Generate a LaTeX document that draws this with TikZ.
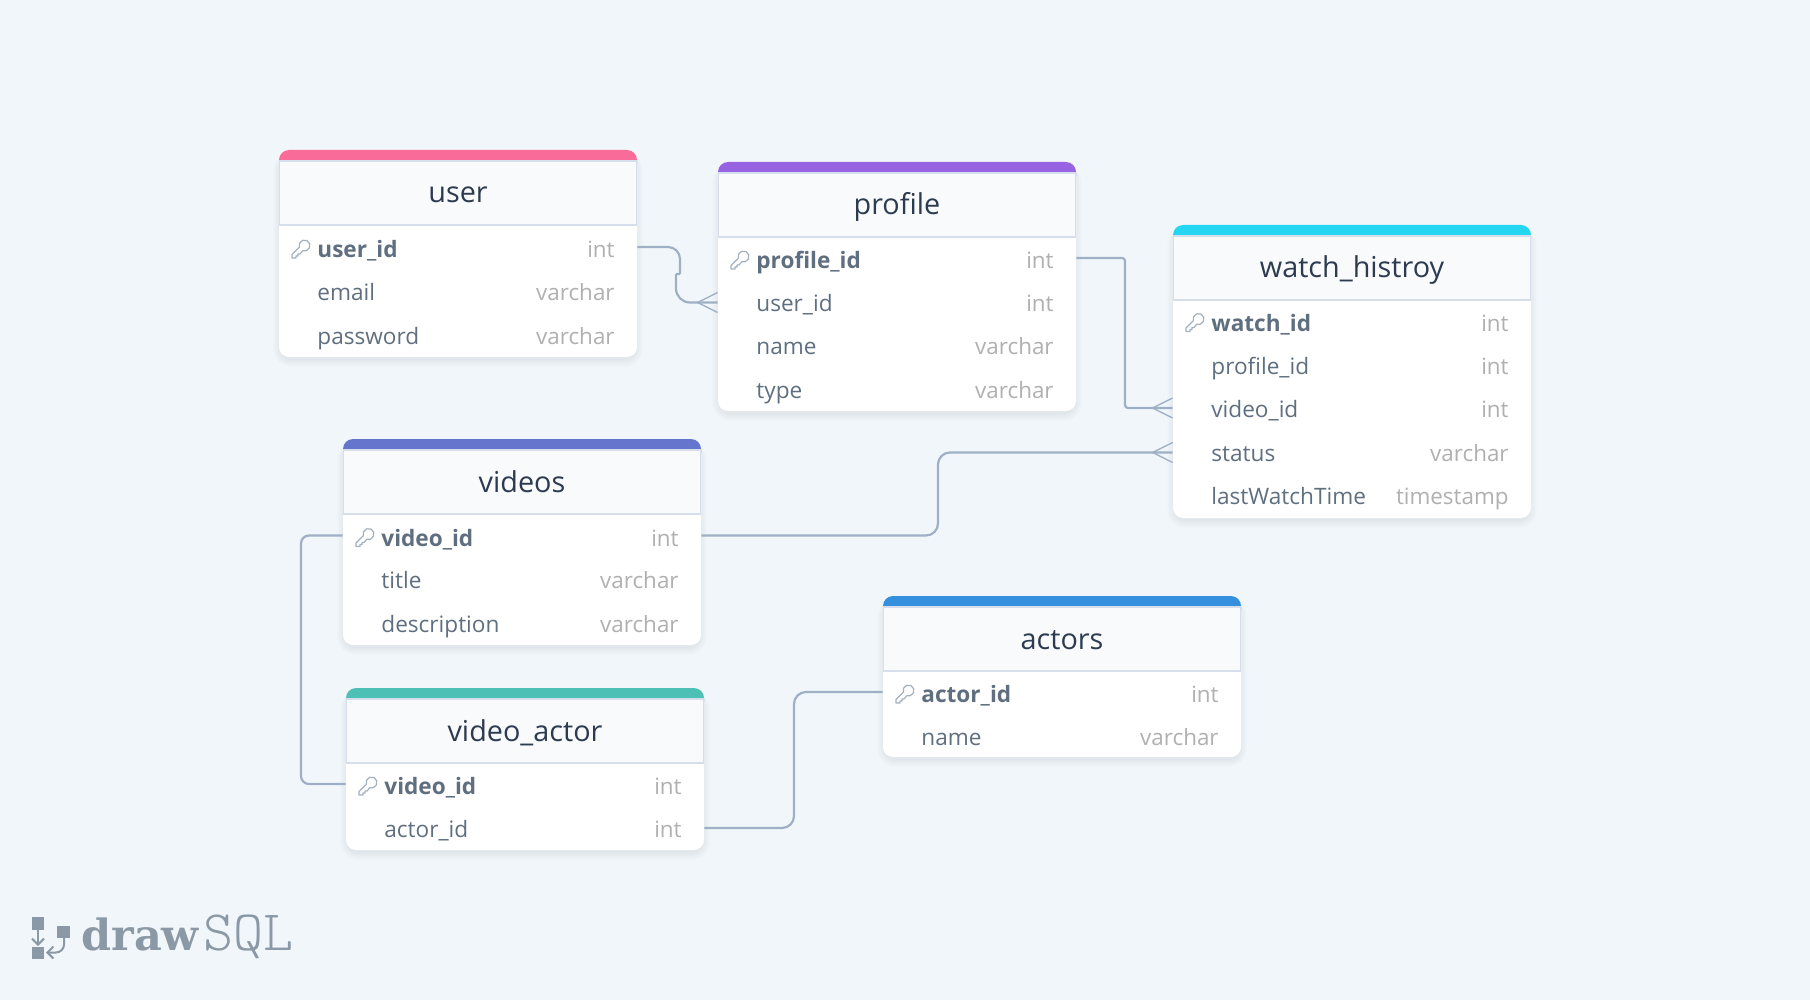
\documentclass[tikz,border=0pt]{standalone}
\usepackage{fontspec}
\setmainfont{Open Sans}
\newfontfamily\logoslab{DejaVu Serif}
\usepackage{tikz}
\usetikzlibrary{arrows.meta,calc,positioning}
\definecolor{bgcol}{HTML}{F1F6FA}
\definecolor{headcol}{HTML}{F9FAFC}
\definecolor{edgecol}{HTML}{D5DEEA}
\definecolor{linkcol}{HTML}{9FB0C6}
\definecolor{titlecol}{HTML}{2D3B50}
\definecolor{fieldcol}{HTML}{5F6F80}
\definecolor{typecol}{HTML}{B0B0B0}
\definecolor{keycol}{HTML}{A3B0BE}
\definecolor{logocol}{HTML}{8B99A6}
\definecolor{barpink}{HTML}{F96C9A}
\definecolor{barpurple}{HTML}{9763E2}
\definecolor{barcyan}{HTML}{25D6F0}
\definecolor{barindigo}{HTML}{6574CD}
\definecolor{barteal}{HTML}{4DC0B5}
\definecolor{barblue}{HTML}{3490DC}
\tikzset{
  tabletitle/.style={font=\fontsize{14.4}{16}\selectfont,text=titlecol,anchor=base,inner sep=0pt},
  fieldrow/.style={minimum width=179pt,minimum height=10pt,inner sep=0pt},
  fieldname/.style={font=\fontsize{11.3}{13}\selectfont,text=fieldcol,anchor=base west,inner sep=0pt},
  fieldkey/.style={fieldname,font=\fontsize{11.3}{13}\selectfont\bfseries},
  fieldtype/.style={font=\fontsize{11.2}{13}\selectfont,text=typecol,anchor=base east,inner sep=0pt},
  link/.style={draw=linkcol,line width=1.1pt},
  crow/.style={draw=linkcol,line width=.7pt},
  keyicon/.pic={
    \draw[keycol,line width=.6pt,line join=round] (-1.7,-1.7) arc[start angle=161,end angle=468,radius=5.5] -- (-1,5) -- (-3,5) -- (-3,7) -- (-5,7) -- (-5,9) -- (-9,9) -- (-9,5.5) -- cycle;
  },
}
% name, title, colour, left, top, bottom, rows
\newcommand{\dbtable}[7]{
  \foreach \s in {1,...,8}{
    \fill[black,opacity=.008,rounded corners=5pt+\s*.5pt] ({#4+2-\s},{#5+4}) rectangle ({#4+356+\s},{#6+2+\s});
  }
  \fill[white,rounded corners=5pt] (#4,#5) rectangle (#4+358,#6);
  \fill[#3,rounded corners=5pt] (#4,#5) -- (#4,#5+24) -- (#4+358,#5+24) -- (#4+358,#5) -- cycle;
  \fill[white] (#4,#5+11) rectangle (#4+358,#5+30);
  \draw[fill=headcol,draw=edgecol,line width=.6pt] (#4+.5,#5+11) rectangle (#4+357.5,#5+75);
  \node[tabletitle] (#1) at (#4+179,#5+53) {#2};
  \foreach \y/\fname/\ftype [count=\i] in {#7}{
    \node[fieldrow] (#1-\i) at (#4+179,#5+\y) {};
    \ifnum\i=1
      \pic at (#4+22,#5+\y+2) {keyicon};
      \path (#4+38,#5+\y+10.5) node[fieldkey] {\fname};
      \path (#4+336,#5+\y+10.5) node[fieldtype] {\ftype};
    \else
      \path (#4+38,#5+\y+9) node[fieldname] {\fname};
      \path (#4+336,#5+\y+9) node[fieldtype] {\ftype};
    \fi
  }
}
% many-side fork at the west edge of a row
\newcommand{\crowfoot}[1]{
  \draw[crow] ($(#1.west)+(-20,0)$) -- ($(#1.west)+(0,-10)$);
  \draw[crow] ($(#1.west)+(-20,0)$) -- ($(#1.west)+(0,10)$);
}
\begin{document}
\begin{tikzpicture}[x=.5pt,y=-.5pt]
  \useasboundingbox[fill=bgcol] (0,0) rectangle (1810,1000);

  \dbtable{user}{user}{barpink}{279}{150}{357}{97/user\_id/int,141/email/varchar,185/password/varchar}
  \dbtable{profile}{profile}{barpurple}{718}{162}{411}{96/profile\_id/int,140.5/user\_id/int,183/name/varchar,227/type/varchar}
  \dbtable{watch}{watch\_histroy}{barcyan}{1173}{225}{518}{95.5/watch\_id/int,140/profile\_id/int,183/video\_id/int,227.5/status/varchar,270/lastWatchTime/timestamp}
  \dbtable{videos}{videos}{barindigo}{343}{439}{645}{96.5/video\_id/int,140/title/varchar,184/description/varchar}
  \dbtable{videoactor}{video\_actor}{barteal}{346}{688}{850}{96/video\_id/int,140/actor\_id/int}
  \dbtable{actors}{actors}{barblue}{883}{596}{757}{96/actor\_id/int,140/name/varchar}

  \draw[link] (user-1.east) [rounded corners=6pt] -| (680,274) [sharp corners] (680,274) -- (676,274) [rounded corners=7pt] (676,274) |- (profile-2.west);
  \draw[link,rounded corners=1.5pt] (profile-1.east) -| (watch-3.west -| 1125,0) -- (watch-3.west);
  \draw[link,rounded corners=6pt] (videos-1.east) -| (watch-4.west -| 938,0) -- (watch-4.west);
  \draw[link,rounded corners=4pt] (videos-1.west) -| (videoactor-1.west -| 301,0) [sharp corners] -- (videoactor-1.west);
  \draw[link,rounded corners=6pt] (videoactor-2.east) -| (actors-1.west -| 794,0) -- (actors-1.west);
  \crowfoot{profile-2}
  \crowfoot{watch-3}
  \crowfoot{watch-4}

  % logo
  \fill[logocol] (32,917) rectangle (44,930);
  \fill[logocol] (32,947) rectangle (44,959);
  \fill[logocol] (57,926) rectangle (70,938);
  \draw[logocol,line width=1pt,-{Straight Barb[length=3pt,width=6pt]}] (38,930) -- (38,946);
  \draw[logocol,line width=1pt,-{Straight Barb[length=3pt,width=6pt]},rounded corners=4pt] (64,938) -- (64,952.5) -- (46,952.5);
  \node[anchor=base west,inner sep=0pt,text=logocol,font=\fontsize{21.5}{24}\logoslab\bfseries\selectfont] (logodraw) at (81,950) {draw};
  \node[anchor=base west,inner sep=0pt,text=logocol,font=\fontsize{28.6}{30}\ttfamily\fontseries{l}\selectfont] (logosql) at (203,950) {SQL};
\end{tikzpicture}
\end{document}
